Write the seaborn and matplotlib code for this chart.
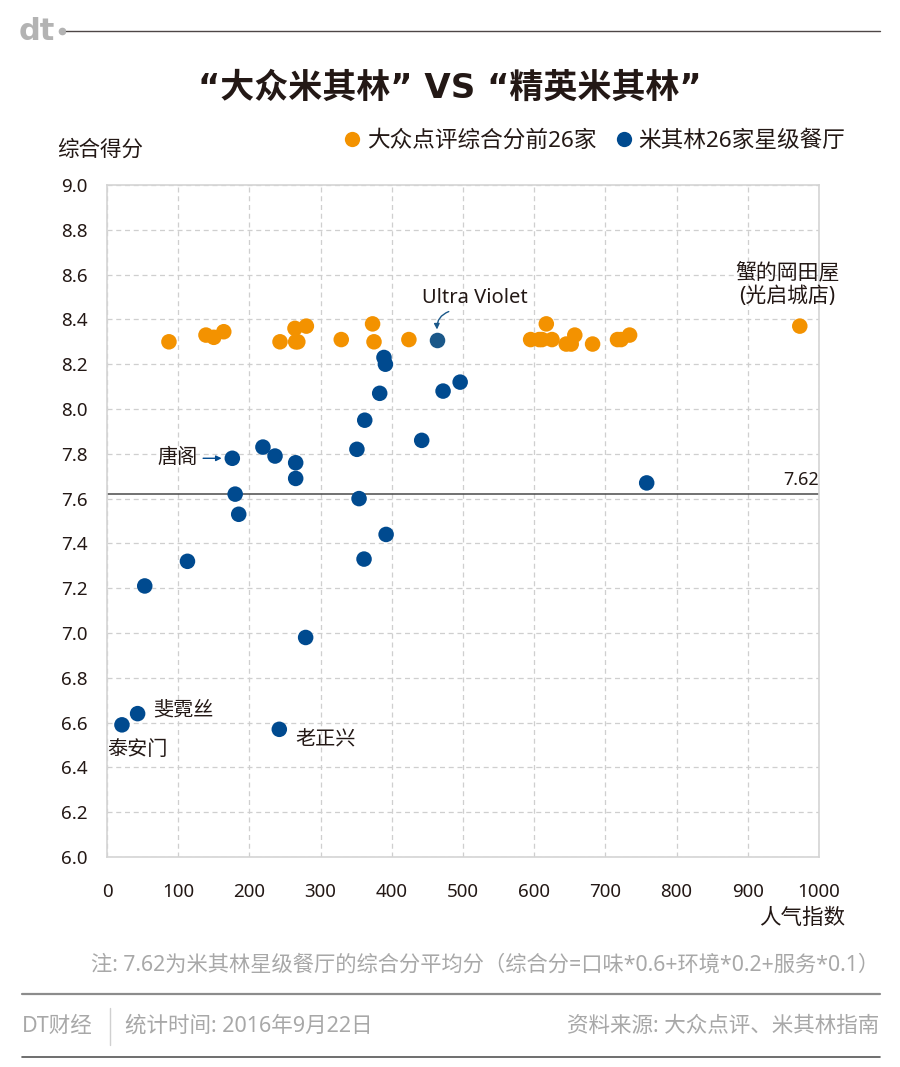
import matplotlib
matplotlib.use("Agg")
import matplotlib.pyplot as plt
from matplotlib.lines import Line2D
import seaborn as sns
import pandas as pd

# ---------------- data ----------------
dp_x = [87, 139, 150, 164, 243, 264, 265, 268, 280, 329, 373, 375, 424,
        595, 607, 611, 617, 625, 645, 652, 657, 682, 717, 722, 734, 973]
dp_y = [8.30, 8.33, 8.32, 8.345, 8.30, 8.36, 8.30, 8.30, 8.37, 8.31, 8.38, 8.30, 8.31,
        8.31, 8.31, 8.31, 8.38, 8.31, 8.29, 8.29, 8.33, 8.29, 8.31, 8.31, 8.33, 8.37]

mi_x = [389, 391, 383, 472, 496, 362, 442, 351, 219, 236, 176, 265, 265,
        180, 354, 185, 758, 392, 361, 113, 53, 279, 43, 21, 242]
mi_y = [8.23, 8.20, 8.07, 8.08, 8.12, 7.95, 7.86, 7.82, 7.83, 7.79, 7.78, 7.76, 7.69,
        7.62, 7.60, 7.53, 7.67, 7.44, 7.33, 7.32, 7.21, 6.98, 6.64, 6.59, 6.57]

uv_x = [464]
uv_y = [8.31]

avg_score = 7.62
series_names = ["大众点评综合分前26家", "米其林26家星级餐厅"]
x_ticks = list(range(0, 1001, 100))
y_ticks = [round(6.0 + 0.2 * i, 1) for i in range(16)]

ORANGE = "#f39200"
BLUE = "#004a8f"
UVBLUE = "#1b5889"
DARK = "#231815"
GRAY = "#a8a8a8"

sns.set_theme(style="white")
FAM = ["Noto Sans", "Noto Sans CJK SC", "DejaVu Sans"]
plt.rcParams["font.family"] = FAM

fig = plt.figure(figsize=(9, 10.67), dpi=100)
W, H = 900, 1067


def fx(px):
    return px / W


def fy(py):
    return 1 - py / H


ax = fig.add_axes([fx(107), fy(857), fx(819) - fx(107), fy(185) - fy(857)])

df = pd.DataFrame({
    "x": dp_x + mi_x,
    "y": dp_y + mi_y,
    "g": [series_names[0]] * len(dp_x) + [series_names[1]] * len(mi_x),
})
sns.scatterplot(data=df, x="x", y="y", hue="g",
                palette={series_names[0]: ORANGE, series_names[1]: BLUE},
                s=125, linewidth=0, legend=False, ax=ax, zorder=3, alpha=1)
sns.scatterplot(x=uv_x, y=uv_y, color=UVBLUE, s=125, linewidth=0, ax=ax, zorder=3)

ax.set_xlim(0, 1000)
ax.set_ylim(6.0, 9.0)
ax.set_xticks(x_ticks)
ax.set_yticks(y_ticks)
ax.set_xticklabels([str(v) for v in x_ticks])
ax.set_yticklabels([f"{v:.1f}" for v in y_ticks])
ax.tick_params(axis="both", length=0, labelsize=13.5, colors=DARK)
ax.tick_params(axis="x", pad=19)
ax.tick_params(axis="y", pad=14)
ax.set_xlabel("")
ax.set_ylabel("")
ax.grid(True, color="#cfcfcf", linestyle=(0, (4, 3)), linewidth=0.9)
ax.set_axisbelow(True)
for sp in ax.spines.values():
    sp.set_color("#d4d4d4")
    sp.set_linewidth(1.2)
    sp.set_visible(True)

# average line
ax.axhline(avg_score, color="#4a4a4a", linewidth=1.1, zorder=2)
ax.text(1000, avg_score + 0.025, f"{avg_score:.2f}", ha="right", va="bottom",
        fontsize=13, color=DARK)

# annotations
ax.text(128, 7.78, "唐阁", ha="right", va="center", fontsize=14.5, color=DARK)
ax.annotate("", xy=(161, 7.78), xytext=(135, 7.78),
            arrowprops=dict(arrowstyle="-|>", color=BLUE, lw=1.0,
                            mutation_scale=8, shrinkA=0, shrinkB=0))
ax.text(517, 8.496, "Ultra Violet", ha="center", va="center", fontsize=14.5, color=DARK)
ax.annotate("", xy=(463.5, 8.355), xytext=(480, 8.435),
            arrowprops=dict(arrowstyle="-|>", color=UVBLUE, lw=1.0,
                            mutation_scale=8, shrinkA=0, shrinkB=0,
                            connectionstyle="arc3,rad=0.35"))
ax.text(955, 8.555, "蟹的岡田屋\n(光启城店)", ha="center", va="center",
        fontsize=15, color=DARK, linespacing=1.2, clip_on=False)
ax.text(65, 6.656, "斐霓丝", ha="left", va="center", fontsize=14.5, color=DARK)
ax.text(0, 6.478, "泰安门", ha="left", va="center", fontsize=14.5, color=DARK)
ax.text(264, 6.518, "老正兴", ha="left", va="center", fontsize=14.5, color=DARK)

# title & header
fig.text(0.5, fy(88), "“大众米其林” VS “精英米其林”", ha="center", va="center",
         fontsize=24.5, fontweight="bold", color=DARK,
         family=["DejaVu Sans", "Noto Sans CJK SC"])
fig.text(fx(19), fy(31), "dt", ha="left", va="center", fontsize=22,
         fontweight="bold", color="#b3b3b3", family=["DejaVu Sans"])
fig.add_artist(Line2D([fx(62)], [fy(31)], marker="o", markersize=4.5,
                      color="#b3b3b3", linestyle="none"))
fig.add_artist(Line2D([fx(66), fx(880)], [fy(31), fy(31)], color="#4d4746", lw=1.0))

# axis labels
fig.text(fx(57), fy(150), "综合得分", ha="left", va="center", fontsize=15.5, color=DARK)
fig.text(fx(845), fy(918), "人气指数", ha="right", va="center", fontsize=15.5, color=DARK)

# legend
handles = [Line2D([0], [0], marker="o", linestyle="none", markersize=11,
                  markerfacecolor=c, markeredgewidth=0)
           for c in (ORANGE, BLUE)]
fig.legend(handles, series_names, loc="center left",
           bbox_to_anchor=(fx(341), fy(141)), ncol=2, frameon=False,
           fontsize=16.3, handletextpad=0.15, columnspacing=0.7,
           handlelength=1.0, labelcolor=DARK, borderaxespad=0, borderpad=0)

# note & footer
fig.text(fx(879), fy(965),
         "注: 7.62为米其林星级餐厅的综合分平均分（综合分=口味*0.6+环境*0.2+服务*0.1）",
         ha="right", va="center", fontsize=15.3, color=GRAY)
fig.add_artist(Line2D([fx(22), fx(880)], [fy(994), fy(994)], color="#8c8c8c", lw=1.6))
fig.add_artist(Line2D([fx(22), fx(880)], [fy(1057), fy(1057)], color="#555555", lw=1.2))
fig.add_artist(Line2D([fx(110), fx(110)], [fy(1008), fy(1045)], color="#d0d0d0", lw=1.0))
fig.text(fx(22), fy(1026), "DT财经", ha="left", va="center", fontsize=15.5, color=GRAY)
fig.text(fx(125), fy(1026), "统计时间: 2016年9月22日", ha="left", va="center",
         fontsize=15.5, color=GRAY)
fig.text(fx(879), fy(1026), "资料来源: 大众点评、米其林指南", ha="right", va="center",
         fontsize=15.5, color=GRAY)

fig.savefig("out.png", dpi=100, facecolor="white")
